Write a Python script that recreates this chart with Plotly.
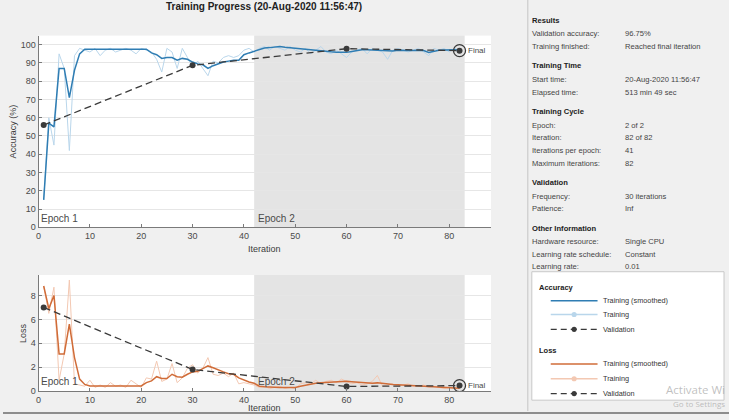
import plotly.graph_objects as go

W, H = 729, 420

# ---------------- data ----------------
iterations = list(range(1, 83))

acc_train_smoothed = [
    15, 57, 55, 87, 87, 71, 86, 95, 97.5, 97.5,
    97.5, 97.5, 97.5, 97.5, 97.5, 97.5, 97.5, 97.5, 97.5, 97.5,
    97.5, 95.5, 94.5, 92.5, 93, 93, 91.5, 92.5, 92, 90.5,
    89.5, 89, 87, 88.5, 89.5, 90.5, 91, 91.5, 91.5, 94.5,
    95.5, 96.5, 97.5, 98.2, 98.4, 98.7, 99, 98.6, 98.3, 98,
    97.6, 97.2, 96.9, 96.6, 96.5, 96.3, 96.1, 95.9, 95.8, 95.8,
    96.3, 96.8, 97.2, 97.2, 97, 96.9, 96.8, 96.5, 96.6, 97,
    96.8, 96.7, 96.8, 97, 96.8, 95.8, 96.6, 97, 97.1, 97.3,
    97.2, 97,
]
acc_train = [
    15, 60, 45, 95, 87, 42, 94, 98, 97, 96,
    98, 94, 97, 98, 96, 97, 98, 97, 95, 98,
    97, 96, 92, 85, 98, 96, 87, 98, 93, 88,
    91, 87, 83, 91, 90, 93, 94, 93, 94, 97,
    98, 96, 98, 99, 97, 99, 98, 97, 99, 97,
    96, 98, 95, 97, 99, 96, 95, 97, 95, 93,
    96, 97, 98, 95, 98, 97, 96, 92, 97, 98,
    97, 96, 97, 98, 96, 94, 98, 97, 98, 96,
    98, 97,
]
loss_train_smoothed = [
    8.8, 6.9, 8.0, 3.1, 3.1, 5.6, 2.8, 1.0, 0.55, 0.42,
    0.42, 0.42, 0.42, 0.42, 0.42, 0.42, 0.42, 0.42, 0.42, 0.42,
    0.7, 0.85, 1.2, 1.05, 1.05, 1.4, 1.2, 1.15, 1.4, 1.6,
    1.65, 1.85, 2.1, 1.95, 1.75, 1.6, 1.45, 1.4, 1.1, 0.9,
    0.75, 0.65, 0.4, 0.35, 0.32, 0.3, 0.3, 0.3, 0.3, 0.3,
    0.4, 0.5, 0.58, 0.64, 0.7, 0.72, 0.76, 0.8, 0.8, 0.82,
    0.78, 0.74, 0.7, 0.66, 0.65, 0.68, 0.62, 0.58, 0.55, 0.53,
    0.5, 0.48, 0.46, 0.44, 0.42, 0.4, 0.37, 0.34, 0.3, 0.27,
    0.24, 0.22,
]
loss_train = [
    8.8, 6.5, 8.7, 0.9, 3.1, 9.3, 0.6, 0.5, 0.4, 0.9,
    0.3, 0.5, 0.3, 0.7, 0.4, 0.5, 0.3, 0.9, 0.6, 0.3,
    1.1, 1.0, 2.5, 0.8, 1.0, 2.3, 0.7, 1.1, 1.9, 2.2,
    1.5, 1.9, 2.8, 1.4, 1.3, 1.5, 1.2, 1.5, 0.6, 0.7,
    0.6, 0.5, 0.3, 0.4, 0.2, 0.3, 0.4, 0.2, 0.3, 0.2,
    0.6, 0.7, 0.6, 0.9, 0.6, 0.8, 0.9, 0.7, 1.0, 0.8,
    0.6, 0.7, 0.5, 0.6, 0.8, 1.3, 0.4, 0.5, 0.6, 0.4,
    0.5, 0.6, 0.4, 0.4, 0.5, 0.3, 0.4, 0.3, 0.2, 0.3,
    0.2, 0.2,
]
val_iterations = [1, 30, 60, 82]
acc_validation = [56, 88.7, 97.8, 96.75]
loss_validation = [7.0, 1.8, 0.38, 0.45]

iters_per_epoch = 41
num_epochs = 2
acc_ticks = list(range(0, 101, 10))
loss_ticks = [0, 2, 4, 6, 8]
iter_ticks = list(range(0, 81, 10))

title_text = "Training Progress (20-Aug-2020 11:56:47)"

panel_sections = ["Results", "Training Time", "Training Cycle", "Validation", "Other Information"]
panel_labels = [
    ["Validation accuracy:", "Training finished:"],
    ["Start time:", "Elapsed time:"],
    ["Epoch:", "Iteration:", "Iterations per epoch:", "Maximum iterations:"],
    ["Frequency:", "Patience:"],
    ["Hardware resource:", "Learning rate schedule:", "Learning rate:"],
]
panel_values = [
    ["96.75%", "Reached final iteration"],
    ["20-Aug-2020 11:56:47", "513 min 49 sec"],
    ["2 of 2", "82 of 82", "41", "82"],
    ["30 iterations", "Inf"],
    ["Single CPU", "Constant", "0.01"],
]
legend_groups = ["Accuracy", "Loss"]
legend_items = ["Training (smoothed)", "Training", "Validation"]
watermark_lines = ["Activate Wi", "Go to Settings"]

# ---------------- style ----------------
FONT = "Liberation Sans, Arial, sans-serif"
ACC_DARK, ACC_LIGHT = "#2f7db3", "#b9d6eb"
LOSS_DARK, LOSS_LIGHT = "#d06c38", "#f3c8b2"
VAL_COLOR = "#3a3a3a"
TEXT = "#3c3c3c"


def px(x):
    return x / W


def py(y):
    return 1 - y / H


X0, X1 = 35.7, 490
TOP = (36, 230)
BOT = (278.3, 395.7)
XRANGE = [0, (X1 - X0) / 5.155]

fig = go.Figure()

panels = [
    ("x", "y", acc_train, acc_train_smoothed, acc_validation, ACC_LIGHT, ACC_DARK),
    ("x2", "y2", loss_train, loss_train_smoothed, loss_validation, LOSS_LIGHT, LOSS_DARK),
]
for xa, ya, raw, smooth, val, light, dark in panels:
    fig.add_trace(go.Scatter(x=iterations, y=raw, mode="lines", xaxis=xa, yaxis=ya,
                             line=dict(color=light, width=1), hoverinfo="skip"))
    fig.add_trace(go.Scatter(x=iterations, y=smooth, mode="lines", xaxis=xa, yaxis=ya,
                             line=dict(color=dark, width=1.5)))
    fig.add_trace(go.Scatter(x=val_iterations, y=val, mode="lines+markers", xaxis=xa, yaxis=ya,
                             line=dict(color=VAL_COLOR, width=1.3, dash="7px,4px"),
                             marker=dict(color=VAL_COLOR, size=6)))
    fig.add_trace(go.Scatter(x=val_iterations[-1:], y=val[-1:], mode="markers", xaxis=xa, yaxis=ya,
                             marker=dict(symbol="circle-open", size=12, color=VAL_COLOR,
                                         line=dict(width=1.3, color=VAL_COLOR))))

axis_common = dict(
    showline=True, linecolor="#7a7a7a", linewidth=1, ticks="inside", ticklen=3,
    tickcolor="#7a7a7a", zeroline=False, tickfont=dict(family=FONT, size=9, color="#4a4a4a"),
)

fig.update_layout(
    width=W, height=H, margin=dict(l=0, r=0, t=0, b=0),
    paper_bgcolor="#f0f0f0", plot_bgcolor="white", showlegend=False,
    font=dict(family=FONT, color=TEXT),
    xaxis=dict(domain=[px(X0), px(X1)], range=XRANGE, anchor="y", tickvals=iter_ticks,
               showgrid=False, **axis_common),
    yaxis=dict(domain=[py(TOP[1]), py(TOP[0])], range=[0, 105], anchor="x", tickvals=acc_ticks,
               showgrid=True, gridcolor="#e6e6e6", **axis_common),
    xaxis2=dict(domain=[px(X0), px(X1)], range=XRANGE, anchor="y2", tickvals=iter_ticks,
                showgrid=False, **axis_common),
    yaxis2=dict(domain=[py(BOT[1]), py(BOT[0])], range=[0, 9.72], anchor="x2", tickvals=loss_ticks,
                showgrid=True, gridcolor="#e6e6e6", **axis_common),
)

shapes = []
annotations = []

# epoch shading + labels
for xa, ya, ydom_shift in [("x", "y", 9), ("x2", "y2", 9)]:
    for e in range(1, num_epochs + 1):
        start = (e - 1) * iters_per_epoch + 1
        end = e * iters_per_epoch + 1
        if e % 2 == 0:
            shapes.append(dict(type="rect", xref=xa, yref=ya + " domain", x0=start, x1=end,
                               y0=0, y1=1, fillcolor="#e4e4e4", line=dict(width=0), layer="below"))
        annotations.append(dict(text=f"Epoch {e}", xref=xa, yref=ya + " domain",
                                x=(0 if e == 1 else start), y=0, xanchor="left", yanchor="middle",
                                xshift=(0 if e == 1 else 2), yshift=ydom_shift, showarrow=False,
                                font=dict(size=10, color="#4a4a4a")))
    annotations.append(dict(text="Final", xref=xa, yref=ya, x=val_iterations[-1],
                            y=(acc_validation if ya == "y" else loss_validation)[-1],
                            xanchor="left", yanchor="middle", xshift=6, showarrow=False,
                            font=dict(size=8, color="#4a4a4a")))

# titles and axis labels
annotations += [
    dict(text=f"<b>{title_text}</b>", xref="paper", yref="paper", x=px(262.5), y=py(7),
         xanchor="center", yanchor="middle", showarrow=False, font=dict(size=10, color="#222")),
    dict(text="Accuracy (%)", xref="paper", yref="paper", x=px(10), y=py(133), textangle=-90,
         xanchor="center", yanchor="middle", showarrow=False, font=dict(size=9)),
    dict(text="Iteration", xref="paper", yref="paper", x=px(263), y=py(251.5),
         xanchor="center", yanchor="middle", showarrow=False, font=dict(size=9)),
    dict(text="Loss", xref="paper", yref="paper", x=px(20), y=py(337), textangle=-90,
         xanchor="center", yanchor="middle", showarrow=False, font=dict(size=9)),
    dict(text="Iteration", xref="paper", yref="paper", x=px(263), y=py(413),
         xanchor="center", yanchor="middle", showarrow=False, font=dict(size=9)),
]

# right information panel
LX, VX = 529, 623
PFS = 7.6
y = 20.5
for s, (sec, labs, vals) in enumerate(zip(panel_sections, panel_labels, panel_values)):
    if s > 0:
        y += 19.7
    annotations.append(dict(text=f"<b>{sec}</b>", xref="paper", yref="paper", x=px(LX), y=py(y),
                            xanchor="left", yanchor="middle", showarrow=False,
                            font=dict(size=PFS, color="#222")))
    y += 13.7
    for i, (lab, val) in enumerate(zip(labs, vals)):
        if i > 0:
            y += 12.8
        annotations.append(dict(text=lab, xref="paper", yref="paper", x=px(LX), y=py(y),
                                xanchor="left", yanchor="middle", showarrow=False,
                                font=dict(size=PFS, color="#444")))
        annotations.append(dict(text=val, xref="paper", yref="paper", x=px(VX), y=py(y),
                                xanchor="left", yanchor="middle", showarrow=False,
                                font=dict(size=PFS, color="#444")))

# panel separator and window border
shapes.append(dict(type="line", xref="paper", yref="paper", x0=px(527), x1=px(527), y0=py(0), y1=py(416),
                   line=dict(color="#c4c4c4", width=1)))
shapes.append(dict(type="line", xref="paper", yref="paper", x0=0, x1=1, y0=py(418), y1=py(418),
                   line=dict(color="#6c6c6c", width=1.5)))

# legend box
shapes.append(dict(type="rect", xref="paper", yref="paper", x0=px(531), x1=px(724), y0=py(405), y1=py(275),
                   fillcolor="white", line=dict(color="#c8c8c8", width=1)))
row_y = [[290.7, 304.3, 318.3, 333.3], [355, 368.3, 383.3, 398.3]]
group_colors = [(ACC_DARK, ACC_LIGHT), (LOSS_DARK, LOSS_LIGHT)]
for g, grp in enumerate(legend_groups):
    ys = row_y[g]
    annotations.append(dict(text=f"<b>{grp}</b>", xref="paper", yref="paper", x=px(536), y=py(ys[0]),
                            xanchor="left", yanchor="middle", showarrow=False,
                            font=dict(size=7.5, color="#222")))
    dark, light = group_colors[g]
    styles = [(dark, None, False), (light, None, True), (VAL_COLOR, "6px,4px", True)]
    for k, item in enumerate(legend_items):
        yy = ys[k + 1]
        col, dash, mk = styles[k]
        shapes.append(dict(type="line", xref="paper", yref="paper", x0=px(550), x1=px(597),
                           y0=py(yy), y1=py(yy), line=dict(color=col, width=1.5 if k == 0 else 1.3,
                                                          dash=dash if dash else "solid")))
        if mk:
            r = 2.6
            shapes.append(dict(type="circle", xref="paper", yref="paper", x0=px(573.5 - r), x1=px(573.5 + r),
                               y0=py(yy + r), y1=py(yy - r), fillcolor=col, line=dict(color=col, width=0)))
        annotations.append(dict(text=item, xref="paper", yref="paper", x=px(600), y=py(yy),
                                xanchor="left", yanchor="middle", showarrow=False,
                                font=dict(size=7.3, color="#333")))

# OS watermark visible in screenshot (cut at the picture's edge)
annotations.append(dict(text=watermark_lines[0], xref="paper", yref="paper", x=px(727), y=py(394),
                        xanchor="right", yanchor="middle", showarrow=False,
                        font=dict(family="Open Sans, sans-serif", size=11.5, color="rgba(150,150,150,0.6)")))
annotations.append(dict(text=watermark_lines[1], xref="paper", yref="paper", x=px(727), y=py(408),
                        xanchor="right", yanchor="middle", showarrow=False,
                        font=dict(family="Open Sans, sans-serif", size=8, color="rgba(150,150,150,0.6)")))

fig.update_layout(shapes=shapes, annotations=annotations)
fig.write_html("out.html", config={"displayModeBar": False},
               post_script="document.body.style.margin='0';document.body.style.overflow='hidden';")
